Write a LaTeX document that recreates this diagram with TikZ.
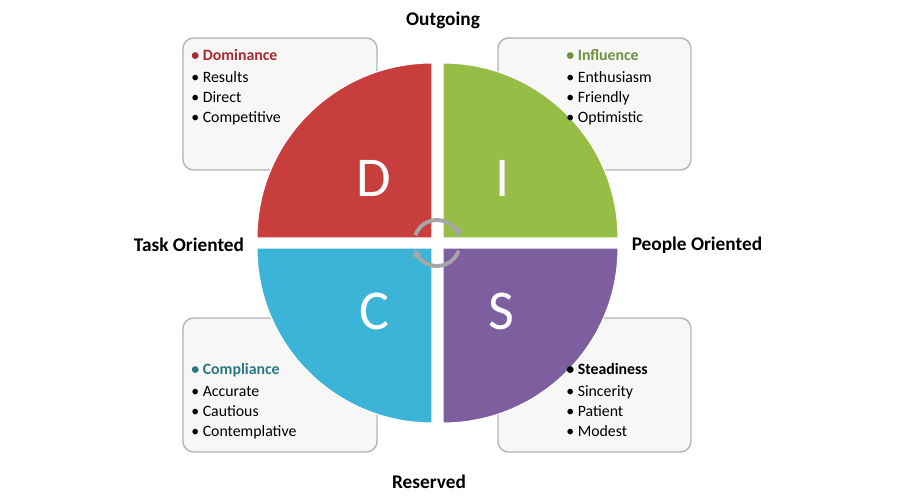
\documentclass[tikz,border=0pt]{standalone}
\usepackage{fontspec}
\setmainfont{Carlito}
\usetikzlibrary{arrows.meta,positioning}

\definecolor{dred}{RGB}{200,62,60}
\definecolor{igreen}{RGB}{150,190,70}
\definecolor{ccyan}{RGB}{60,180,215}
\definecolor{spurple}{RGB}{125,95,160}
\definecolor{hred}{RGB}{170,40,45}
\definecolor{hgreen}{RGB}{110,145,60}
\definecolor{hteal}{RGB}{40,120,130}

\begin{document}
\begin{tikzpicture}[x=0.02cm,y=-0.02cm,
  infobox/.style={draw=gray!60,rounded corners=6pt,fill=gray!6,line width=0.8pt},
  boxtext/.style={anchor=north west,align=left,font=\fontsize{9}{11.4}\selectfont,inner sep=0pt},
  axislabel/.style={font=\fontsize{11}{13}\selectfont\bfseries},
  letter/.style={font=\fontsize{32}{36}\selectfont,text=white},
  quad/.style={draw=white,line width=0.6pt},
  turn/.style={draw=gray!70,line width=2.2pt,-{Stealth[length=5pt,width=6pt]}}
]
\useasboundingbox (0,0) rectangle (900,500);

% info boxes
\draw[infobox] (183,38) rectangle (377,170);
\draw[infobox] (498,38) rectangle (691,170);
\draw[infobox] (183,318) rectangle (377,452);
\draw[infobox] (498,318) rectangle (691,452);

% quadrants (y axis points down)
\fill[dred,quad] (432,238) -- (257,238) arc[start angle=180,end angle=270,radius=175] -- cycle;
\fill[igreen,quad] (443,238) -- (443,63) arc[start angle=270,end angle=360,radius=175] -- cycle;
\fill[ccyan,quad] (432,248) -- (432,423) arc[start angle=90,end angle=180,radius=175] -- cycle;
\fill[spurple,quad] (443,248) -- (618,248) arc[start angle=0,end angle=90,radius=175] -- cycle;

\node[letter] (d) at (374,178) {D};
\node[letter] (i) at (503,178) {I};
\node[letter] (c) at (374,311) {C};
\node[letter] (s) at (501,311) {S};

% center arrows
\coordinate (mid) at (437,243);
\draw[turn] ([shift={(-160:23)}]mid) arc[start angle=-160,end angle=-15,radius=23];
\draw[turn] ([shift={(20:23)}]mid) arc[start angle=20,end angle=165,radius=23];

% box texts
\node[boxtext] (dtext) at (191,49) {\textbf{\color{hred}• Dominance}\\[1pt]• Results\\• Direct\\• Competitive};
\node[boxtext] (itext) at (566,49) {\textbf{\color{hgreen}• Influence}\\[1pt]• Enthusiasm\\• Friendly\\• Optimistic};
\node[boxtext] (ctext) at (191,363) {\textbf{\color{hteal}• Compliance}\\[1pt]• Accurate\\• Cautious\\• Contemplative};
\node[boxtext] (stext) at (566,363) {\textbf{• Steadiness}\\[1pt]• Sincerity\\• Patient\\• Modest};

% axis labels
\node[axislabel] (out) at (443,20) {Outgoing};
\node[axislabel] (res) at (429,482) {Reserved};
\node[axislabel] (task) at (189,245) {Task Oriented};
\node[axislabel] (people) at (697,245) {People Oriented};
\end{tikzpicture}
\end{document}
